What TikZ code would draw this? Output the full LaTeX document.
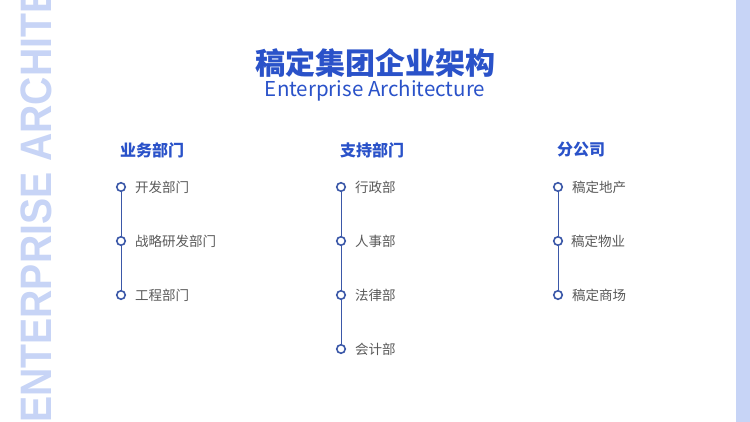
\documentclass[tikz,border=0pt]{standalone}
\usepackage{fontspec}
\setmainfont{Noto Sans CJK SC}
\newfontfamily\sidefont{Liberation Sans}
\usetikzlibrary{positioning}
\definecolor{mainblue}{HTML}{2A52C9}
\definecolor{dotblue}{HTML}{3B58A8}
\definecolor{paleblue}{HTML}{C7D4F6}
\definecolor{itemgray}{HTML}{5A5A5A}
\tikzset{
	dot/.style={
		circle,
		draw=dotblue,
		line width=1.6pt,
		minimum size=8.5pt,
		inner sep=0pt
	}
}

\begin{document}
\begin{tikzpicture}[x=1pt,y=-1pt]
		\tikzstyle{head}=[font=\fontsize{16}{16}\selectfont\bfseries, text=mainblue, anchor=west, inner sep=0pt]
		\tikzstyle{item}=[font=\fontsize{13.5}{14}\selectfont, text=itemgray, anchor=west, inner sep=0pt]
		\tikzstyle{link}=[draw=dotblue, line width=0.9pt]
		\useasboundingbox (0,0) rectangle (750,422);
		\fill[white] (0,0) rectangle (750,422);
		\fill[paleblue] (736,0) rectangle (750,422);
		\begin{scope}
		\clip (0,0) rectangle (750,422);
		\node[rotate=90, anchor=south west, inner sep=0pt, text=paleblue, font=\fontsize{44}{44}\selectfont\sidefont\bfseries] (side) at (52,423) {\scalebox{0.89}[1]{ENTERPRISE ARCHITECTURE}};
		\end{scope}
		
		\node[font=\fontsize{30}{30}\selectfont\bfseries, text=mainblue] (title) at (375,63) {稿定集团企业架构};
		\node[font=\fontsize{20.5}{21}\selectfont, text=mainblue] (subtitle) at (375,91) {Enterprise Architecture};
		
		% business
		\node[head] (h1) at (120,150) {业务部门};
		\node[dot] (a1) at (121,187) {};
		\node[dot] (a2) at (121,241) {};
		\node[dot] (a3) at (121,295) {};
		\node[item] at (135,187) {开发部门};
		\node[item] at (135,241) {战略研发部门};
		\node[item] at (135,295) {工程部门};
		\draw[link] (a1) -- (a2) (a2) -- (a3);
		
		% support
		\node[head] (h2) at (340,150) {支持部门};
		\node[dot] (b1) at (341,187) {};
		\node[dot] (b2) at (341,241) {};
		\node[dot] (b3) at (341,295) {};
		\node[dot] (b4) at (341,349) {};
		\node[item] at (355,187) {行政部};
		\node[item] at (355,241) {人事部};
		\node[item] at (355,295) {法律部};
		\node[item] at (355,349) {会计部};
		\draw[link] (b1) -- (b2) (b2) -- (b3) (b3) -- (b4);
		
		% branches
		\node[head] (h3) at (557,150) {分公司};
		\node[dot] (c1) at (558,187) {};
		\node[dot] (c2) at (558,241) {};
		\node[dot] (c3) at (558,295) {};
		\node[item] at (572,187) {稿定地产};
		\node[item] at (571,241) {稿定物业};
		\node[item] at (572,295) {稿定商场};
		\draw[link] (c1) -- (c2) (c2) -- (c3);
\end{tikzpicture}
\end{document}
